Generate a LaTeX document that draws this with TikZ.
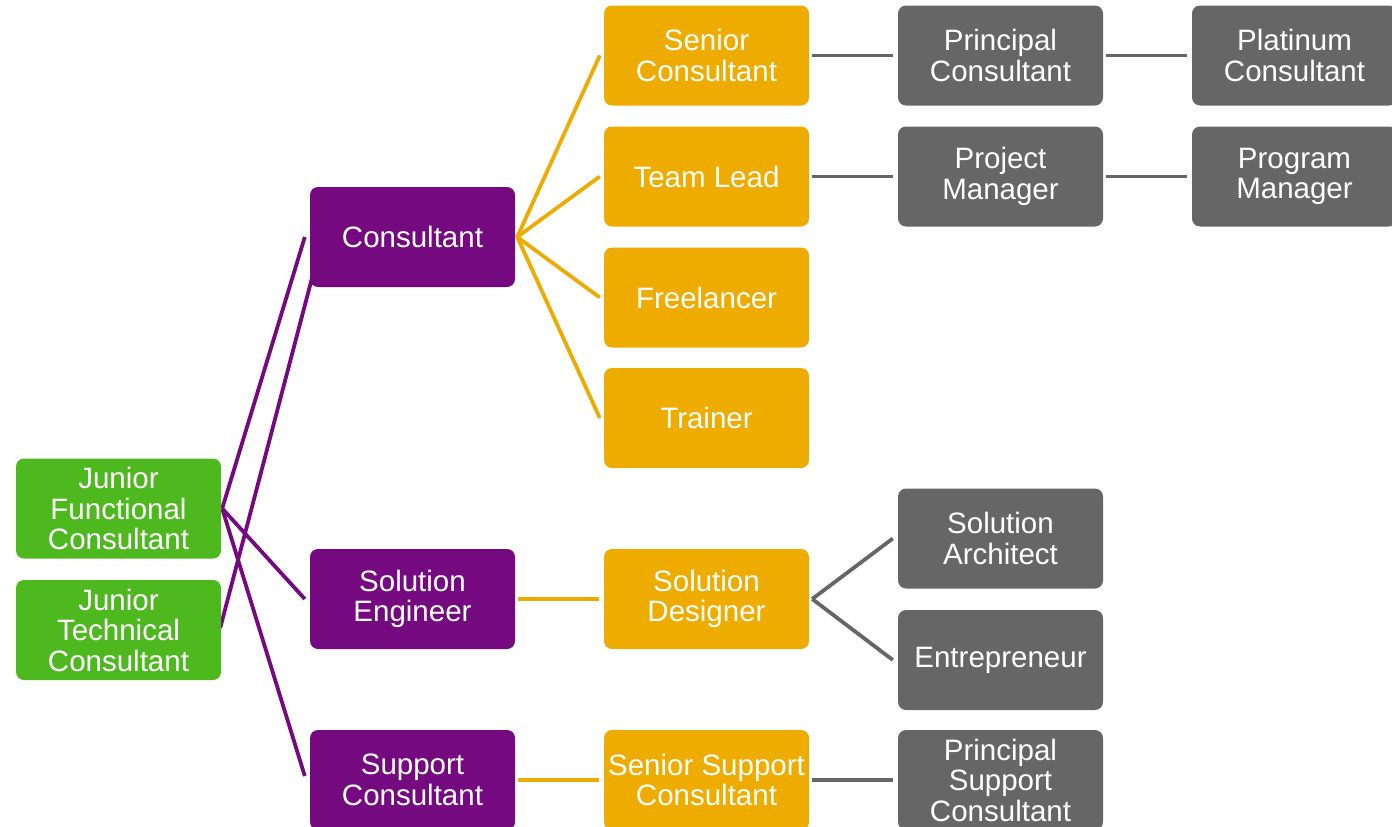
\documentclass[tikz,border=0pt]{standalone}
\usepackage{fontspec}
\setmainfont{Liberation Sans}
\usetikzlibrary{backgrounds}
\definecolor{cgreen}{HTML}{4EB81F}
\definecolor{cpurple}{HTML}{750A80}
\definecolor{corange}{HTML}{EEAB00}
\definecolor{cgray}{HTML}{666666}
\tikzset{
  box/.style={rounded corners=8pt, minimum width=205pt, minimum height=100pt, inner sep=0pt,
    align=center, text=white, font=\fontsize{29.5}{30.5}\selectfont},
  gbox/.style={box, fill=cgreen},
  pbox/.style={box, fill=cpurple},
  obox/.style={box, fill=corange},
  ybox/.style={box, fill=cgray},
  conn/.style={line width=3.8pt},
  pl/.style={conn, draw=cpurple},
  ol/.style={conn, draw=corange},
  yl/.style={conn, draw=cgray}
}
\begin{document}
\begin{tikzpicture}[x=1pt,y=-1pt]
\useasboundingbox (0,0) rectangle (1392,827);
\clip (0,0) rectangle (1392,827);
% column 1
\node[gbox] (jf) at (118.5,508.5) {Junior\\Functional\\Consultant};
\node[gbox] (jt) at (118.5,630) {Junior\\Technical\\Consultant};
% column 2
\node[pbox] (cons) at (412.5,237) {Consultant};
\node[pbox] (se) at (412.5,599) {Solution\\Engineer};
\node[pbox] (sc) at (412.5,780) {Support\\Consultant};
% column 3
\node[obox] (senc) at (706.5,55.5) {Senior\\Consultant};
\node[obox] (tl) at (706.5,176.5) {Team Lead};
\node[obox] (fl) at (706.5,297.5) {Freelancer};
\node[obox] (tr) at (706.5,418) {Trainer};
\node[obox] (sd) at (706.5,599) {Solution\\Designer};
\node[obox] (ssc) at (706.5,780) {Senior Support\\Consultant};
% column 4
\node[ybox] (pc) at (1000.5,55.5) {Principal\\Consultant};
\node[ybox] (pm) at (1000.5,176.5) {Project\\Manager};
\node[ybox] (sa) at (1000.5,538.5) {Solution\\Architect};
\node[ybox] (en) at (1000.5,660) {Entrepreneur};
\node[ybox] (psc) at (1000.5,780) {Principal\\Support\\Consultant};
% column 5
\node[ybox] (plc) at (1294.5,55.5) {Platinum\\Consultant};
\node[ybox] (prm) at (1294.5,176.5) {Program\\Manager};
% connectors
\begin{scope}[on background layer]
\draw[pl] ([xshift=1pt]jf.east) -- ([xshift=-5pt]cons.west);
\draw[pl] ([xshift=1pt]jf.east) -- ([xshift=-5pt]se.west);
\draw[pl] ([xshift=1pt]jf.east) -- ([xshift=-5pt,yshift=4pt]sc.west);
\draw[pl] ([xshift=-1pt,yshift=2pt]jt.east) -- ([xshift=3pt,yshift=-38pt]cons.west);
\draw[ol] ([xshift=2pt]cons.east) -- ([xshift=-4pt]senc.west);
\draw[ol] ([xshift=2pt]cons.east) -- ([xshift=-4pt]tl.west);
\draw[ol] ([xshift=2pt]cons.east) -- ([xshift=-4pt]fl.west);
\draw[ol] ([xshift=2pt]cons.east) -- ([xshift=-4pt]tr.west);
\draw[ol] ([xshift=3pt]se.east) -- ([xshift=-5pt]sd.west);
\draw[ol] ([xshift=3pt]sc.east) -- ([xshift=-5pt]ssc.west);
\draw[yl] ([xshift=3pt]senc.east) -- ([xshift=-5pt]pc.west);
\draw[yl] ([xshift=3pt]pc.east) -- ([xshift=-5pt]plc.west);
\draw[yl] ([xshift=3pt]tl.east) -- ([xshift=-5pt]pm.west);
\draw[yl] ([xshift=3pt]pm.east) -- ([xshift=-5pt]prm.west);
\draw[yl] ([xshift=3pt]sd.east) -- ([xshift=-5pt]sa.west);
\draw[yl] ([xshift=3pt]sd.east) -- ([xshift=-5pt]en.west);
\draw[yl] ([xshift=3pt]ssc.east) -- ([xshift=-5pt]psc.west);
\end{scope}
\end{tikzpicture}
\end{document}
